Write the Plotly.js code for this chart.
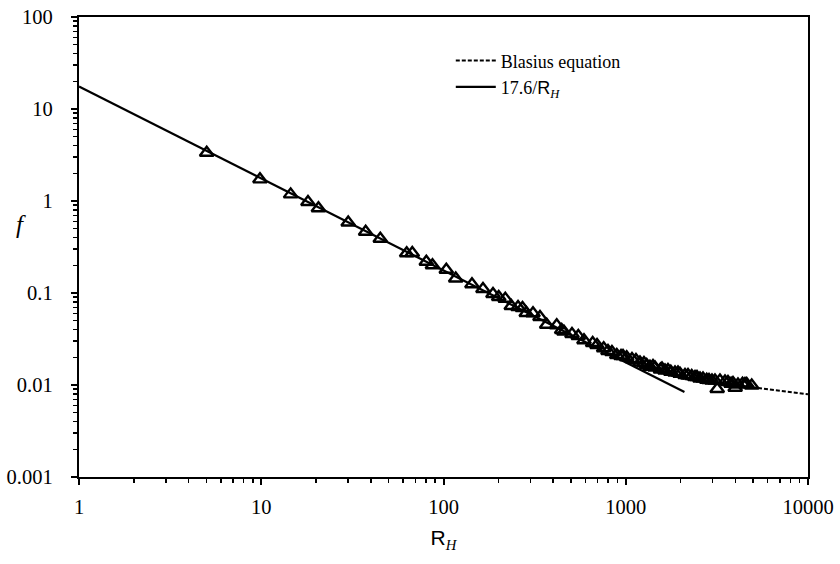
<!DOCTYPE html>
<html>
<head>
<meta charset="utf-8">
<script src="https://cdn.plot.ly/plotly-3.0.1.min.js"></script>
<style>html,body{margin:0;padding:0;background:#fff;}#chart{width:840px;height:564px;}</style>
</head>
<body>
<div id="chart"></div>
<script>
// Measured data (R_H, f)
var dataRH = [5.02, 9.84, 14.5, 18.05, 20.6, 30.0, 37.4, 45.0, 62.8, 67.4, 80.5, 87.0,
  103.6, 116.7, 143.3, 164.7, 186.9, 200.9, 218.3, 235.5, 256.4, 271.3, 284.6, 309.8, 338.4,
  368.4, 418, 445.2, 458.3, 507, 549, 590, 658.5, 695.7, 756.8, 799, 840, 893, 942, 966, 1012, 1082,
  1138, 1197, 1259, 1303, 1358, 1411, 1447, 1551, 1581, 1642, 1705, 1767, 1863, 1935, 1985, 2114, 2196,
  2301, 2399, 2460, 2555, 2654, 2782, 2863, 2973, 3088,
  3175, 3289, 3504, 3639, 3784, 3877, 3985, 4129, 4372, 4511, 4610, 4911];
var dataF = [3.35, 1.72, 1.18, 0.975, 0.833, 0.584, 0.464, 0.389, 0.270, 0.272, 0.219, 0.200,
  0.179, 0.1437, 0.1243, 0.1105, 0.0975, 0.0905, 0.0865, 0.0722, 0.0704, 0.0687, 0.0606, 0.0602, 0.0548,
  0.0452, 0.0446, 0.0396, 0.0380, 0.0358, 0.0341, 0.0306, 0.0286, 0.0272, 0.0251, 0.02342, 0.02284, 0.0212, 0.0207, 0.02066, 0.0200, 0.01917,
  0.01869, 0.01757, 0.01734, 0.0165, 0.0158, 0.01609, 0.0155, 0.01474, 0.01511, 0.01438, 0.01455, 0.01395, 0.01368, 0.01368, 0.01327, 0.01285, 0.01285,
  0.01253, 0.01222, 0.01222, 0.01177, 0.01177, 0.01142, 0.01133, 0.01119, 0.01119,
  0.00905, 0.01119, 0.01091, 0.01078, 0.01033, 0.01051, 0.00932, 0.01012, 0.01033, 0.01025, 0.01025, 0.00988];

// Laminar line 17.6/R_H (end points)
var laminarRH = [1, 2100];
var laminarF = [17.6, 0.00838];
// Blasius equation (end points)
var blasiusRH = [2000, 10000];
var blasiusF = [0.0118, 0.00791];

var xTickVals = [1, 10, 100, 1000, 10000];
var xTickText = ['1', '10', '100', '1000', '10000'];
var yTickVals = [0.001, 0.01, 0.1, 1, 10, 100];
var yTickText = ['0.001', '0.01', '0.1', '1', '10', '100'];

var serif = 'Liberation Serif, Times New Roman, serif';
var sans = 'Liberation Sans, Arial, sans-serif';

var traces = [
  {x: blasiusRH, y: blasiusF, mode: 'lines', name: 'Blasius equation',
   line: {color: '#000', width: 2, dash: '4px,2px'}},
  {x: laminarRH, y: laminarF, mode: 'lines',
   name: '17.6/<span style="font-family:Liberation Sans">R</span><sub><i>H</i></sub>',
   line: {color: '#000', width: 2.2}},
  {x: dataRH, y: dataF, mode: 'markers', name: 'data', showlegend: false,
   marker: {symbol: 'triangle-up-open', size: 12, color: '#000', line: {width: 2.4, color: '#000'}}}
];

function axisCommon() {
  return {
    type: 'log', showgrid: false, zeroline: false,
    showline: true, linecolor: '#000', linewidth: 2.2, mirror: true,
    ticks: 'outside', ticklen: 6, tickwidth: 2, tickcolor: '#000',
    tickfont: {family: serif, size: 20.5, color: '#000'},
    minor: {ticks: 'outside', ticklen: 4, tickwidth: 1.5, tickcolor: '#000', showgrid: false, dtick: 'D1'}
  };
}

var layout = {
  width: 840, height: 564,
  margin: {l: 79, r: 32, t: 17, b: 87},
  paper_bgcolor: '#fff', plot_bgcolor: '#fff',
  showlegend: true,
  legend: {x: 0.51, y: 0.945, xanchor: 'left', yanchor: 'top',
    font: {family: serif, size: 18, color: '#000'}, bgcolor: 'rgba(0,0,0,0)',
    itemwidth: 40, tracegroupgap: 0},
  xaxis: Object.assign(axisCommon(), {
    range: [0, 4], tickvals: xTickVals, ticktext: xTickText, ticklabelstandoff: 4,
    title: {text: 'R<sub><i><span style="font-family:Liberation Serif">H</span></i></sub>',
      font: {family: sans, size: 21, color: '#000'}, standoff: 14}
  }),
  yaxis: Object.assign(axisCommon(), {
    range: [-3, 2], tickvals: yTickVals, ticktext: yTickText, ticklabelstandoff: 14
  }),
  annotations: [{
    text: '<i>f</i>', xref: 'paper', yref: 'paper', x: -0.08, y: 0.548,
    xanchor: 'center', yanchor: 'middle', showarrow: false,
    font: {family: serif, size: 25, color: '#000'}
  }]
};

Plotly.newPlot('chart', traces, layout, {displayModeBar: false, staticPlot: true});
</script>
</body>
</html>
